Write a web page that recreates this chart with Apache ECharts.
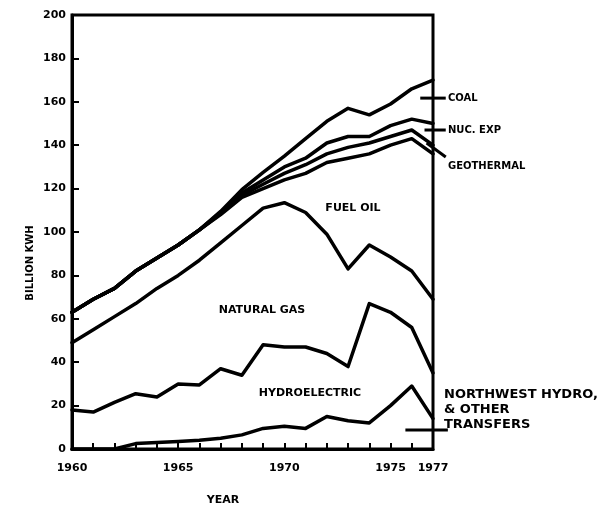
<!DOCTYPE html>
<html><head><meta charset="utf-8">
<script src="https://cdn.jsdelivr.net/npm/echarts@6/dist/echarts.min.js"></script>
<style>html,body{margin:0;padding:0;background:#fff}#c{width:603px;height:512px}</style>
</head><body><div id="c"></div>
<script>
const years = [1960,1961,1962,1963,1964,1965,1966,1967,1968,1969,1970,1971,1972,1973,1974,1975,1976,1977];
const xTickLabels = [1960,1965,1970,1975,1977];
// cumulative boundary lines, billion kWh
const transfersTop = [0,0,0,2.5,3,3.5,4,5,6.5,9.5,10.5,9.5,15,13,12,20,29,14];
const hydroTop     = [18,17,21.5,25.5,24,30,29.5,37,34,48,47,47,44,38,67,63,56,35];
const gasTop       = [49,55,61,67,74,80,87,95,103,111,113.5,109,99,83,94,88.5,82,69];
const oilTop       = [63,69,74,82,88,94,101,108,116,120,124,127,132,134,136,140,143,136];
const geoTop       = [63,69,74,82,88,94,101,108.5,117,122,127,131,136,139,141,144,147,140];
const nucTop       = [63,69,74,82,88,94,101,109,118,124,130,134,141,144,144,149,152,150];
const coalTop      = [63,69,74,82,88,94,101,109.5,119.5,127.5,135,143,151,157,154,159,166,170];
const yTicks = {min:0, max:200, step:20};

const F = 'DejaVu Sans';
const chart = echarts.init(document.getElementById('c'));
function line(name, vals){
  return {name, type:'line', symbol:'none', smooth:false, animation:false,
    lineStyle:{color:'#000', width:3.5, join:'round', cap:'round'},
    data: years.map((y,i)=>[y, vals[i]])};
}
chart.setOption({
  backgroundColor:'#fff',
  animation:false,
  grid:{left:72, right:170, top:15, bottom:63, show:true, borderColor:'#000', borderWidth:3},
  xAxis:{type:'value', min:1960, max:1977, interval:1,
    axisLine:{show:true, lineStyle:{color:'#000', width:3}},
    axisTick:{show:true, inside:true, length:6, lineStyle:{color:'#000', width:2}},
    splitLine:{show:false},
    axisLabel:{margin:14, color:'#000', fontFamily:F, fontWeight:'bold', fontSize:11,
      formatter:v=> xTickLabels.includes(v) ? String(v) : ''}},
  yAxis:{type:'value', min:yTicks.min, max:yTicks.max, interval:yTicks.step,
    axisLine:{show:true, lineStyle:{color:'#000', width:3}},
    axisTick:{show:true, inside:true, length:7, lineStyle:{color:'#000', width:2}},
    splitLine:{show:false},
    axisLabel:{margin:6, color:'#000', fontFamily:F, fontWeight:'bold', fontSize:11}},
  series:[line('transfers',transfersTop), line('hydro',hydroTop), line('gas',gasTop),
          line('oil',oilTop), line('geo',geoTop), line('nuc',nucTop), line('coal',coalTop)]
});

const P = (x,y)=>chart.convertToPixel({gridIndex:0},[x,y]);
function seg(a,b){ const p=P(a[0],a[1]), q=P(b[0],b[1]);
  return {type:'line', shape:{x1:p[0],y1:p[1],x2:q[0],y2:q[1]}, style:{stroke:'#000', lineWidth:3}, z:10}; }
function txt(x,y,t,size,align){ return {type:'text', x, y, z:10,
  style:{text:t, fill:'#000', font:'bold '+size+'px "'+F+'"', textAlign:align||'left', textVerticalAlign:'middle'}}; }

chart.setOption({graphic:[
  seg([1976.4,161.7],[1977.6,161.7]),
  seg([1976.6,147],[1977.6,147]),
  seg([1976.7,141],[1977.6,134.6]),
  seg([1975.7,8.8],[1977.7,8.8]),
  txt(448,98,'COAL',10),
  txt(448,130,'NUC. EXP',10),
  txt(448,166,'GEOTHERMAL',10),
  txt(444,395,'NORTHWEST HYDRO,',13),
  txt(444,410,'& OTHER',13),
  txt(444,425,'TRANSFERS',13),
  txt(353,208,'FUEL OIL',11,'center'),
  txt(262,310,'NATURAL GAS',11,'center'),
  txt(310,393,'HYDROELECTRIC',11,'center'),
  txt(223,500,'YEAR',11,'center'),
  {type:'text', x:30, y:263, rotation:Math.PI/2, z:10,
   style:{text:'BILLION KWH', fill:'#000', font:'bold 10px "'+F+'"', textAlign:'center', textVerticalAlign:'middle'}}
]});
</script></body></html>
